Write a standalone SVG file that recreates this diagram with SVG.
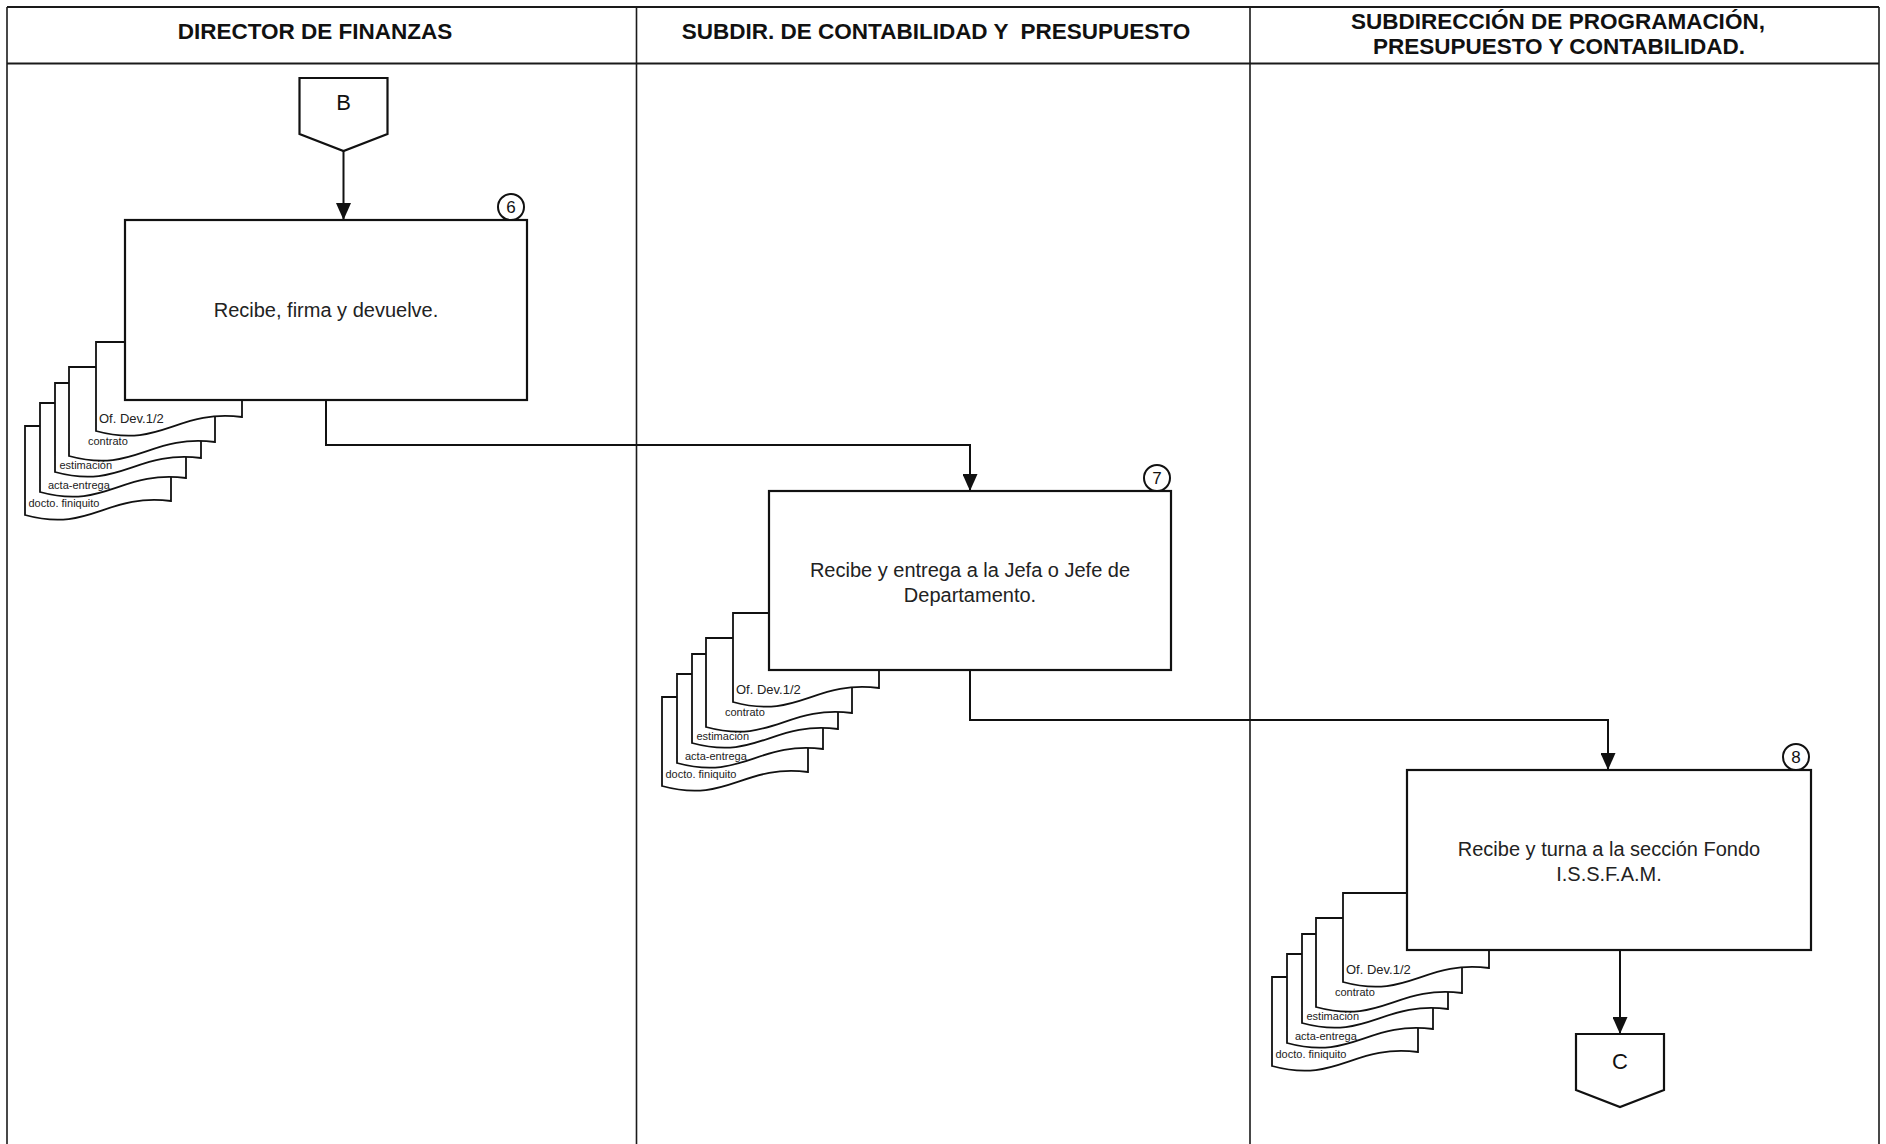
<svg xmlns="http://www.w3.org/2000/svg" xmlns:xlink="http://www.w3.org/1999/xlink" width="1886" height="1144" viewBox="0 0 1886 1144">
<style>
.lane{stroke:#1a1a1a;stroke-width:1.6;fill:none}
.hline{stroke:#1a1a1a;stroke-width:2.2;fill:none}
.hdr{font-family:"Liberation Sans",Arial,sans-serif;font-weight:bold;font-size:22.5px;fill:#111;text-anchor:middle;white-space:pre}
.box{fill:#fff;stroke:#111;stroke-width:2.2}
.doc{fill:#fff;stroke:#111;stroke-width:1.8}
.txt{font-family:"Liberation Sans",Arial,sans-serif;font-size:20px;fill:#222;text-anchor:middle}
.num{font-family:"Liberation Sans",Arial,sans-serif;font-size:17px;fill:#111;text-anchor:middle}
.lbl{font-family:"Liberation Sans",Arial,sans-serif;font-size:22px;fill:#111;text-anchor:middle}
.dt1{font-family:"Liberation Sans",Arial,sans-serif;font-size:13px;fill:#222}
.dt{font-family:"Liberation Sans",Arial,sans-serif;font-size:11px;fill:#222}
.conn{fill:none;stroke:#111;stroke-width:2}
.circ{fill:#fff;stroke:#111;stroke-width:2}
</style>
<defs>
<marker id="arr" markerUnits="userSpaceOnUse" viewBox="0 0 17 15" markerWidth="17" markerHeight="15" refX="17" refY="7.5" orient="auto">
<path d="M0,0 L17,7.5 L0,15 Z" fill="#111"/>
</marker>
<path id="docshape" class="doc" d="M0,0 H146 V75 C80.3,67 65.7,107 0,89 Z"/>
<g id="stack">
<use xlink:href="#docshape" x="-71" y="84"/>
<text class="dt" x="-67.5" y="165">docto. finiquito</text>
<use xlink:href="#docshape" x="-56" y="61"/>
<text class="dt" x="-48" y="147">acta-entrega</text>
<use xlink:href="#docshape" x="-41" y="41"/>
<text class="dt" x="-36.5" y="126.5">estimación</text>
<use xlink:href="#docshape" x="-27" y="25"/>
<text class="dt" x="-8" y="103">contrato</text>
<use xlink:href="#docshape" x="0" y="0"/>
<text class="dt1" x="3" y="80.5">Of. Dev.1/2</text>
</g>
</defs>
<rect width="1886" height="1144" fill="#fff"/>
<g id="lanes">
<line class="hline" x1="7" y1="7" x2="1879" y2="7"/>
<line class="hline" x1="7" y1="63.5" x2="1879" y2="63.5"/>
<line class="lane" x1="7" y1="7" x2="7" y2="1144"/>
<line class="lane" x1="636.5" y1="7" x2="636.5" y2="1144"/>
<line class="lane" x1="1250" y1="7" x2="1250" y2="1144"/>
<line class="lane" x1="1879" y1="7" x2="1879" y2="1144"/>
<text class="hdr" x="315" y="38.5">DIRECTOR DE FINANZAS</text>
<text class="hdr" x="936" y="38.5">SUBDIR. DE CONTABILIDAD Y  PRESUPUESTO</text>
<text class="hdr" x="1558" y="29">SUBDIRECCIÓN DE PROGRAMACIÓN,</text>
<text class="hdr" x="1559" y="53.5">PRESUPUESTO Y CONTABILIDAD.</text>
</g>
<g id="connectors">
<path class="conn" d="M343.5,151 V220" marker-end="url(#arr)"/>
<path class="conn" d="M326,400 V445 H970 V491" marker-end="url(#arr)"/>
<path class="conn" d="M970,670 V720 H1608 V770" marker-end="url(#arr)"/>
<path class="conn" d="M1620,950 V1034" marker-end="url(#arr)"/>
</g>
<g id="node-B">
<polygon class="box" points="299.5,78 387.5,78 387.5,134 343.5,151 299.5,134"/>
<text class="lbl" x="343.5" y="110">B</text>
</g>
<g id="node-6">
<use xlink:href="#stack" transform="translate(96,342)"/>
<rect class="box" x="125" y="220" width="402" height="180"/>
<text class="txt" x="326" y="317">Recibe, firma y devuelve.</text>
<circle class="circ" cx="511" cy="207" r="13"/>
<text class="num" x="511" y="213">6</text>
</g>
<g id="node-7">
<use xlink:href="#stack" transform="translate(733,613)"/>
<rect class="box" x="769" y="491" width="402" height="179"/>
<text class="txt" x="970" y="576.5">Recibe y entrega a la Jefa o Jefe de</text>
<text class="txt" x="970" y="601.5">Departamento.</text>
<circle class="circ" cx="1157" cy="478" r="13"/>
<text class="num" x="1157" y="484">7</text>
</g>
<g id="node-8">
<use xlink:href="#stack" transform="translate(1343,893)"/>
<rect class="box" x="1407" y="770" width="404" height="180"/>
<text class="txt" x="1609" y="855.5">Recibe y turna a la sección Fondo</text>
<text class="txt" x="1609" y="880.5">I.S.S.F.A.M.</text>
<circle class="circ" cx="1796" cy="757" r="13"/>
<text class="num" x="1796" y="763">8</text>
</g>
<g id="node-C">
<polygon class="box" points="1576,1034 1664,1034 1664,1090 1620,1107 1576,1090"/>
<text class="lbl" x="1620" y="1069">C</text>
</g>
</svg>
